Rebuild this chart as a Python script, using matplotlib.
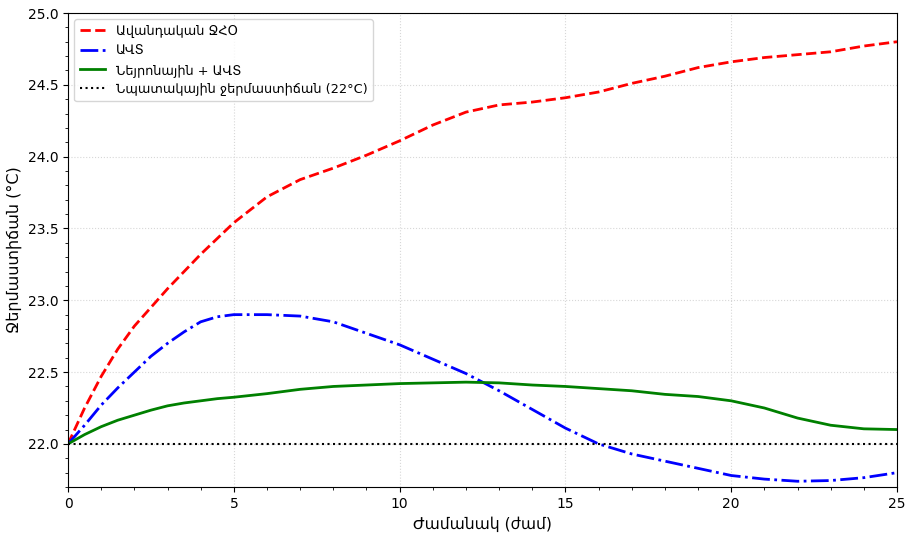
import numpy as np
import matplotlib
matplotlib.use('Agg')
import matplotlib.pyplot as plt
from matplotlib.ticker import MultipleLocator

# hours (half-hour readings where the curves bend most)
hours = [0, 0.5, 1, 1.5, 2, 2.5, 3, 3.5, 4, 4.5, 5, 6, 7, 8, 9,
         10, 11, 12, 13, 14, 15, 16, 17, 18, 19, 20, 21, 22, 23, 24, 25]

traditional = [22.00, 22.25, 22.47, 22.66, 22.82, 22.95, 23.08, 23.20, 23.32, 23.43,
               23.54, 23.72, 23.84, 23.92, 24.01,
               24.11, 24.22, 24.31, 24.36, 24.38, 24.41, 24.45, 24.51, 24.56, 24.62,
               24.66, 24.69, 24.71, 24.73, 24.77, 24.80]
avs = [22.00, 22.13, 22.27, 22.39, 22.50, 22.61, 22.70, 22.78, 22.85, 22.885,
       22.90, 22.90, 22.89, 22.85, 22.77,
       22.69, 22.59, 22.49, 22.37, 22.24, 22.11, 22.00, 21.93, 21.88, 21.83,
       21.78, 21.755, 21.74, 21.745, 21.765, 21.80]
neural_avs = [22.00, 22.065, 22.12, 22.165, 22.20, 22.235, 22.265, 22.285, 22.30, 22.315,
              22.325, 22.35, 22.38, 22.40, 22.41,
              22.42, 22.425, 22.43, 22.425, 22.41, 22.40, 22.385, 22.37, 22.345, 22.33,
              22.30, 22.25, 22.18, 22.13, 22.105, 22.10]
target = 22.0

labels = ['Ավանդական ՋՀՕ', 'ԱՎՏ', 'Նեյրոնային + ԱՎՏ', 'Նպատակային ջերմաստիճան (22°C)']

fig = plt.figure(figsize=(9.07, 5.33), dpi=100)
ax = fig.add_axes([0.075, 0.0863, 0.914, 0.8893])

ax.plot(hours, traditional, 'r--', lw=2, label=labels[0])
ax.plot(hours, avs, 'b-.', lw=2, label=labels[1])
ax.plot(hours, neural_avs, 'g-', lw=2, label=labels[2])
ax.axhline(target, color='k', ls=':', lw=1.5, label=labels[3])

ax.set_xlim(0, 25)
ax.set_ylim(21.7, 25.0)
ax.xaxis.set_major_locator(MultipleLocator(5))
ax.xaxis.set_minor_locator(MultipleLocator(1))
ax.yaxis.set_major_locator(MultipleLocator(0.5))
ax.yaxis.set_minor_locator(MultipleLocator(0.1))
ax.grid(True, ls=':', color='lightgray', alpha=0.9)

ax.set_xlabel('Ժամանակ (ժամ)', fontsize=11.2)
ax.set_ylabel('Ջերմաստիճան (°C)', fontsize=11.5)
ax.legend(loc='upper left', fontsize=9.3)

fig.savefig('out.png', dpi=100)
